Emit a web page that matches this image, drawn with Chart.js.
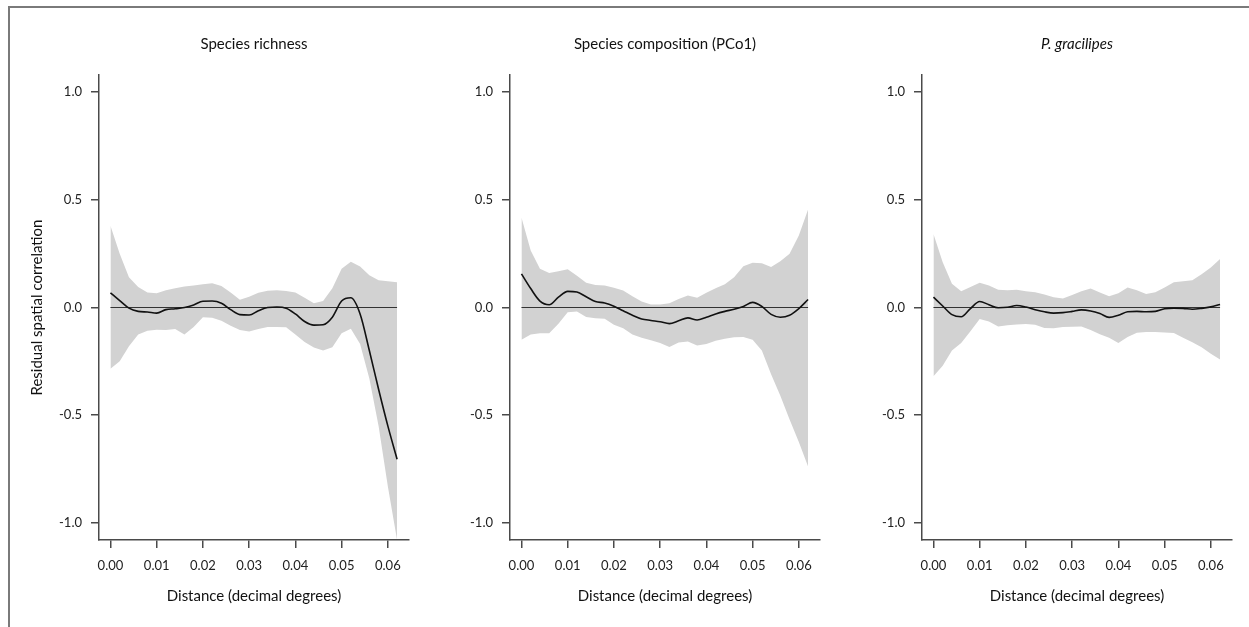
<!DOCTYPE html>
<html>
<head>
<meta charset="utf-8">
<script src="https://cdn.jsdelivr.net/npm/chart.js@4.4.1/dist/chart.umd.min.js"></script>
<style>
  html, body { margin: 0; padding: 0; background: #fff; overflow: hidden; }
  #page { position: relative; width: 1249px; height: 627px; }
  #frame { position: absolute; left: 8px; top: 6px; width: 1260px; height: 640px; border: 2px solid #7a7a7a; box-sizing: border-box; }
  .panel { position: absolute; top: 0; width: 420px; height: 627px; }
</style>
</head>
<body>
<div id="page">
  <div id="frame"></div>
  <div class="panel" style="left:0px"><canvas id="c1" width="420" height="627"></canvas></div>
  <div class="panel" style="left:411px"><canvas id="c2" width="420" height="627"></canvas></div>
  <div class="panel" style="left:823px"><canvas id="c3" width="420" height="627"></canvas></div>
</div>
<script>
// distance classes (decimal degrees)
const distance = [0.000, 0.002, 0.004, 0.006, 0.008, 0.010, 0.012, 0.014, 0.016, 0.018,
                  0.020, 0.022, 0.024, 0.026, 0.028, 0.030, 0.032, 0.034, 0.036, 0.038,
                  0.040, 0.042, 0.044, 0.046, 0.048, 0.050, 0.052, 0.054, 0.056, 0.058,
                  0.060, 0.062];

const xTicks = [0.00, 0.01, 0.02, 0.03, 0.04, 0.05, 0.06];
const yTicks = [-1.0, -0.5, 0.0, 0.5, 1.0];
const panelTitles = ['Species richness', 'Species composition (PCo1)', 'P. gracilipes'];

// Species richness
const richUpper = [0.38, 0.25, 0.14, 0.095, 0.070, 0.066, 0.080, 0.090, 0.097, 0.102,
                   0.108, 0.113, 0.100, 0.070, 0.036, 0.050, 0.068, 0.078, 0.080, 0.077,
                   0.070, 0.045, 0.020, 0.030, 0.090, 0.180, 0.212, 0.190, 0.150, 0.127,
                   0.122, 0.117];
const richLower = [-0.284, -0.25, -0.18, -0.125, -0.108, -0.103, -0.105, -0.100, -0.125, -0.090,
                   -0.045, -0.048, -0.062, -0.085, -0.105, -0.112, -0.100, -0.090, -0.090, -0.092,
                   -0.125, -0.160, -0.186, -0.200, -0.185, -0.120, -0.099, -0.17, -0.33, -0.55,
                   -0.83, -1.08];
const richFit = [0.068, 0.032, -0.003, -0.018, -0.021, -0.026, -0.010, -0.006, 0.000, 0.012,
                 0.029, 0.030, 0.020, -0.010, -0.033, -0.035, -0.015, 0.000, 0.002, -0.003,
                 -0.030, -0.065, -0.082, -0.080, -0.045, 0.030, 0.045, -0.03, -0.20, -0.38,
                 -0.55, -0.705];

// Species composition (PCo1)
const compUpper = [0.418, 0.265, 0.180, 0.160, 0.168, 0.178, 0.148, 0.115, 0.105, 0.102,
                   0.092, 0.079, 0.052, 0.028, 0.014, 0.014, 0.020, 0.040, 0.056, 0.045,
                   0.068, 0.090, 0.108, 0.140, 0.192, 0.208, 0.205, 0.188, 0.215, 0.250,
                   0.335, 0.455];
const compLower = [-0.150, -0.125, -0.120, -0.120, -0.075, -0.022, -0.018, -0.044, -0.050, -0.052,
                   -0.080, -0.096, -0.125, -0.140, -0.152, -0.165, -0.184, -0.162, -0.158, -0.176,
                   -0.170, -0.155, -0.145, -0.138, -0.137, -0.150, -0.20, -0.31, -0.41, -0.52,
                   -0.625, -0.739];
const compFit = [0.156, 0.088, 0.030, 0.013, 0.048, 0.075, 0.072, 0.050, 0.028, 0.021,
                 0.006, -0.015, -0.036, -0.053, -0.060, -0.066, -0.075, -0.062, -0.048, -0.058,
                 -0.045, -0.030, -0.018, -0.008, 0.005, 0.024, 0.005, -0.032, -0.045, -0.036,
                 -0.005, 0.037];

// P. gracilipes
const gracUpper = [0.341, 0.21, 0.11, 0.076, 0.095, 0.115, 0.102, 0.083, 0.080, 0.082,
                   0.076, 0.071, 0.060, 0.048, 0.042, 0.058, 0.075, 0.088, 0.070, 0.052,
                   0.066, 0.093, 0.080, 0.063, 0.071, 0.093, 0.117, 0.122, 0.127, 0.155,
                   0.186, 0.225];
const gracLower = [-0.319, -0.27, -0.20, -0.165, -0.11, -0.053, -0.065, -0.088, -0.083, -0.079,
                   -0.077, -0.080, -0.095, -0.096, -0.091, -0.089, -0.088, -0.105, -0.124, -0.140,
                   -0.165, -0.137, -0.117, -0.114, -0.114, -0.116, -0.119, -0.14, -0.161, -0.185,
                   -0.215, -0.242];
const gracFit = [0.048, 0.007, -0.033, -0.043, -0.005, 0.028, 0.013, -0.001, 0.001, 0.009,
                 0.002, -0.010, -0.020, -0.026, -0.024, -0.018, -0.011, -0.016, -0.028, -0.046,
                 -0.036, -0.020, -0.018, -0.020, -0.018, -0.006, -0.003, -0.004, -0.008, -0.004,
                 0.003, 0.014];

const FONT = 'Lato, "Open Sans", sans-serif';
const AXIS = '#4a4a4a';

function pts(ys) {
    return distance.map((d, i) => ({ x: d, y: ys[i] }));
}

function makePanel(id, title, upper, lower, fit, showYTitle, italic) {
    const zero = [{ x: distance[0], y: 0 }, { x: distance[distance.length - 1], y: 0 }];
    new Chart(document.getElementById(id), {
        type: 'line',
        data: {
            datasets: [
                { data: pts(upper), fill: '+1', backgroundColor: '#d2d2d2', borderWidth: 0, pointRadius: 0, tension: 0, order: 2 },
                { data: pts(lower), fill: false, borderWidth: 0, pointRadius: 0, tension: 0, order: 2 },
                { data: zero, borderColor: '#333', borderWidth: 1, pointRadius: 0, order: 1 },
                { data: pts(fit), borderColor: '#111', borderWidth: 1.6, pointRadius: 0, cubicInterpolationMode: 'monotone', order: 0 }
            ]
        },
        options: {
            responsive: false,
            animation: false,
            layout: { padding: { left: 0, right: 11, top: 0, bottom: 0 } },
            plugins: {
                legend: { display: false },
                tooltip: { enabled: false },
                title: {
                    display: true,
                    text: title,
                    fullSize: false,
                    color: '#111',
                    font: { family: FONT, size: 15, style: italic ? 'italic' : 'normal', weight: 'normal' },
                    padding: { top: 35, bottom: 22 }
                }
            },
            scales: {
                x: {
                    type: 'linear',
                    min: -0.00248,
                    max: 0.06458,
                    afterBuildTicks: (s) => { s.ticks = xTicks.map(v => ({ value: v })); },
                    afterFit: (s) => { s.height = 87; },
                    grid: { drawOnChartArea: false, drawTicks: true, tickLength: 8, color: AXIS, lineWidth: 1.5 },
                    border: { display: true, color: AXIS, width: 1.5 },
                    ticks: { color: '#222', padding: 10, maxRotation: 0, font: { family: FONT, size: 13 }, callback: (v) => v.toFixed(2) },
                    title: { display: true, text: 'Distance (decimal degrees)', color: '#111', font: { family: FONT, size: 15 }, padding: { top: 0, bottom: 22 } }
                },
                y: {
                    min: -1.08,
                    max: 1.08,
                    afterBuildTicks: (s) => { s.ticks = yTicks.map(v => ({ value: v })); },
                    afterFit: (s) => { s.width = 99; },
                    grid: { drawOnChartArea: false, drawTicks: true, tickLength: 8, color: AXIS, lineWidth: 1.5 },
                    border: { display: true, color: AXIS, width: 1.5 },
                    ticks: { color: '#222', padding: 9, font: { family: FONT, size: 13 }, callback: (v) => v.toFixed(1) },
                    title: { display: showYTitle, text: 'Residual spatial correlation', color: '#111', font: { family: FONT, size: 15 }, padding: { top: 28, bottom: 0 } }
                }
            }
        }
    });
}

makePanel('c1', panelTitles[0], richUpper, richLower, richFit, true, false);
makePanel('c2', panelTitles[1], compUpper, compLower, compFit, false, false);
makePanel('c3', panelTitles[2], gracUpper, gracLower, gracFit, false, true);
</script>
</body>
</html>
